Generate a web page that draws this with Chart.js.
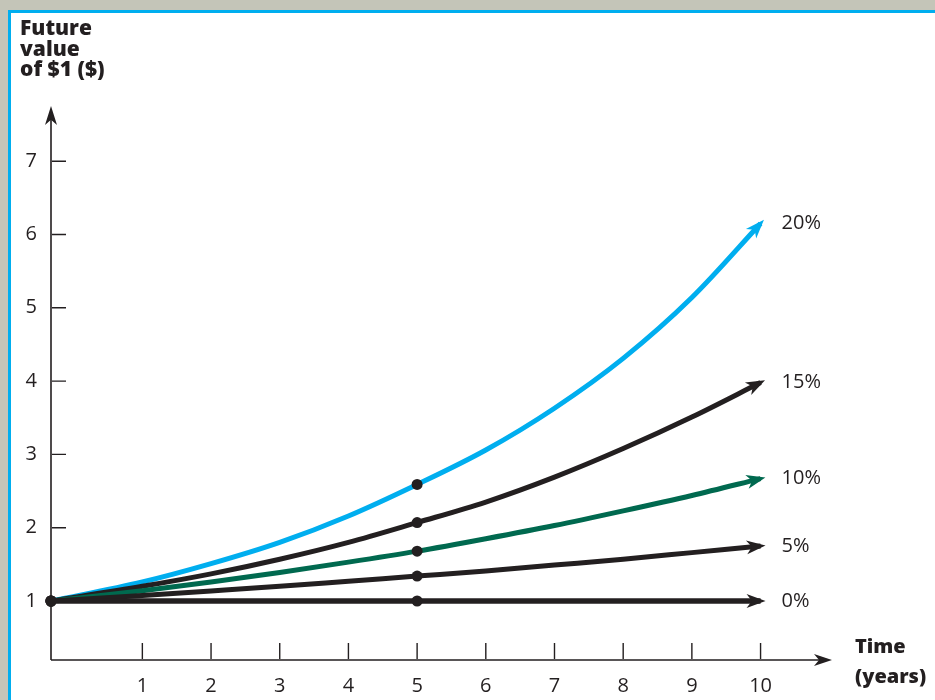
<!DOCTYPE html>
<html>
<head>
<meta charset="utf-8">
<script src="https://cdn.jsdelivr.net/npm/chart.js@4"></script>
<style>
  body { margin: 0; background: #c4c5b8; overflow: hidden; width: 935px; height: 700px; }
  #frame { position: absolute; left: 8px; top: 10px; width: 940px; height: 700px; background: #fff;
           border-left: 3px solid #00aeef; border-top: 3px solid #00aeef; }
  #wrap { position: absolute; left: 0; top: 0; width: 935px; height: 700px; }
  .axisTitle { position: absolute; font-family: "Open Sans", sans-serif; font-weight: 800; color: #231f20; }
  #yTitle { left: 20px; top: 17px; font-size: 21px; line-height: 20.5px; }
  #xTitle { left: 855px; top: 631px; font-size: 20px; line-height: 30px; }
</style>
</head>
<body>
<div id="frame"></div>
<div id="wrap"><canvas id="chart"></canvas></div>
<div class="axisTitle" id="yTitle">Future<br>value<br>of $1 ($)</div>
<div class="axisTitle" id="xTitle">Time<br>(years)</div>
<script>
// время (годы) — первая точка лежит на оси Y
const years = [-0.33, 1, 2, 3, 4, 5, 6, 7, 8, 9, 10];
const rate0  = [1, 1, 1, 1, 1, 1, 1, 1, 1, 1, 1];
const rate5  = [1, 1.076, 1.137, 1.20, 1.27, 1.34, 1.41, 1.49, 1.57, 1.66, 1.75];
const rate10 = [1, 1.14, 1.26, 1.39, 1.53, 1.68, 1.85, 2.03, 2.23, 2.44, 2.67];
const rate15 = [1, 1.20, 1.37, 1.57, 1.80, 2.07, 2.35, 2.69, 3.08, 3.51, 3.98];
const rate20 = [1, 1.26, 1.51, 1.80, 2.16, 2.59, 3.06, 3.63, 4.31, 5.14, 6.15];

const seriesLabels = ["0%", "5%", "10%", "15%", "20%"];
const seriesData = [rate0, rate5, rate10, rate15, rate20];
const seriesColors = ["#231f20", "#231f20", "#00694f", "#231f20", "#00aeef"];

const xTicks = [1, 2, 3, 4, 5, 6, 7, 8, 9, 10];
const yTicks = [1, 2, 3, 4, 5, 6, 7];
const dotIndexes = [0, 5]; // точки на старте и на 5-м году

const INK = "#231f20";
Chart.defaults.font.family = "'Open Sans', sans-serif";
Chart.defaults.color = INK;

function arrowHead(ctx, x, y, ang, len, half, color) {
    ctx.save();
    ctx.translate(x, y);
    ctx.rotate(ang);
    ctx.beginPath();
    ctx.moveTo(0, 0);
    ctx.lineTo(-len, -half);
    ctx.lineTo(-len * 0.72, 0);
    ctx.lineTo(-len, half);
    ctx.closePath();
    ctx.fillStyle = color;
    ctx.fill();
    ctx.restore();
}

// оси со стрелками и короткие засечки внутрь
const axesPlugin = {
    id: "axesArrows",
    beforeDatasetsDraw(chart) {
        const { ctx, chartArea, scales } = chart;
        const left = chartArea.left, bottom = chartArea.bottom;
        ctx.save();
        ctx.strokeStyle = INK;
        ctx.lineWidth = 1.6;
        ctx.beginPath();
        ctx.moveTo(left, bottom);
        ctx.lineTo(left, chartArea.top + 12);
        ctx.moveTo(left, bottom);
        ctx.lineTo(chartArea.right - 12, bottom);
        ctx.stroke();
        arrowHead(ctx, left, chartArea.top, -Math.PI / 2, 19, 6, INK);
        arrowHead(ctx, chartArea.right, bottom, 0, 18, 6, INK);

        ctx.lineWidth = 1.4;
        ctx.beginPath();
        xTicks.forEach(v => {
            const px = scales.x.getPixelForValue(v);
            ctx.moveTo(px, bottom - 1);
            ctx.lineTo(px, bottom - 17);
        });
        yTicks.forEach(v => {
            const py = scales.y.getPixelForValue(v);
            ctx.moveTo(left + 1, py);
            ctx.lineTo(left + 15, py);
        });
        ctx.stroke();
        ctx.restore();
    },
    afterDatasetsDraw(chart) {
        const ctx = chart.ctx;
        ctx.save();
        chart.data.datasets.forEach((ds, i) => {
            const pts = chart.getDatasetMeta(i).data;
            const last = pts[pts.length - 1];
            const prev = pts[pts.length - 2];
            const fx = last.cp1x !== undefined ? last.cp1x : prev.x;
            const fy = last.cp1y !== undefined ? last.cp1y : prev.y;
            const ang = Math.atan2(last.y - fy, last.x - fx);
            const tipX = last.x + Math.cos(ang) * 5;
            const tipY = last.y + Math.sin(ang) * 5;
            arrowHead(ctx, tipX, tipY, ang, 19, 7, ds.borderColor);

            ctx.fillStyle = INK;
            ctx.font = "20px 'Open Sans', sans-serif";
            ctx.textAlign = "left";
            ctx.textBaseline = "middle";
            ctx.fillText(ds.label, last.x + 21, last.y);
        });
        ctx.restore();
    }
};

const datasets = seriesLabels.map((label, i) => ({
    label: label,
    data: years.map((x, j) => ({ x: x, y: seriesData[i][j] })),
    borderColor: seriesColors[i],
    borderWidth: i === 0 ? 5.5 : 5,
    borderCapStyle: "butt",
    cubicInterpolationMode: "monotone",
    pointRadius: years.map((_, j) => dotIndexes.includes(j) ? 5.5 : 0),
    pointBackgroundColor: INK,
    pointBorderWidth: 0,
    clip: false
}));

new Chart(document.getElementById("chart"), {
    type: "line",
    data: { datasets: datasets },
    options: {
        responsive: true,
        maintainAspectRatio: false,
        animation: false,
        events: [],
        layout: { padding: { top: 106, right: 103, left: 0, bottom: 0 } },
        plugins: { legend: { display: false }, tooltip: { enabled: false } },
        scales: {
            x: {
                type: "linear",
                min: -0.33,
                max: 11.04,
                afterBuildTicks: s => { s.ticks = xTicks.map(v => ({ value: v })); },
                afterFit: s => { s.height = 40; },
                grid: { display: false, drawTicks: false },
                border: { display: false },
                ticks: { padding: 14, font: { size: 20 }, color: INK }
            },
            y: {
                type: "linear",
                min: 0.195,
                max: 7.753,
                afterBuildTicks: s => { s.ticks = yTicks.map(v => ({ value: v })); },
                afterFit: s => { s.width = 51; },
                grid: { display: false, drawTicks: false },
                border: { display: false },
                ticks: { padding: 14, font: { size: 20 }, color: INK }
            }
        }
    },
    plugins: [axesPlugin]
});
</script>
</body>
</html>
